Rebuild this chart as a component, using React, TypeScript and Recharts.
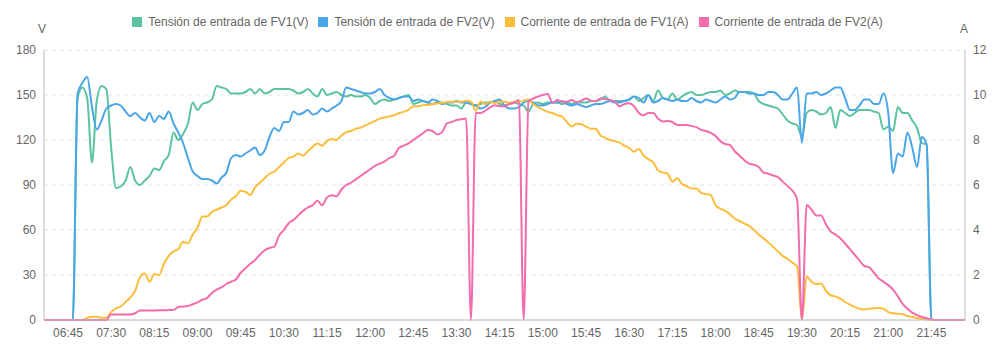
import { LineChart, Line, XAxis, YAxis, CartesianGrid, Legend } from "recharts";

// samples every 5 minutes starting at 06:20
const startTime = "06:20";
const stepMinutes = 5;

const tickLabels = [
  "06:45", "07:30", "08:15", "09:00", "09:45", "10:30", "11:15",
  "12:00", "12:45", "13:30", "14:15", "15:00", "15:45", "16:30",
  "17:15", "18:00", "18:45", "19:30", "20:15", "21:00", "21:45",
];

const voltTicks = [0, 30, 60, 90, 120, 150, 180];
const ampTicks = [0, 2, 4, 6, 8, 10, 12];

// Tensión de entrada de FV1 (V)
const fv1Voltage = [
  0, 0, 0, 0, 0, 0, 0, 148, 155, 148, 105, 146,
  156, 154, 115, 88, 89, 93, 102, 93, 90, 93, 96, 101,
  100, 106, 110, 125, 120, 124, 131, 145, 140, 144, 145, 147,
  156, 155, 154, 151, 151, 151, 152, 154, 151, 154, 151, 152,
  154, 154, 154, 154, 153, 151, 152, 154, 151, 149, 154, 150,
  151, 152, 150, 149, 150, 149, 149, 150, 148, 144, 146, 147,
  146, 147, 148, 149, 150, 144, 145, 146, 145, 144, 145, 145,
  144, 143, 143, 141, 145, 144, 143, 144, 145, 145, 146, 144,
  143, 144, 145, 144, 143, 139, 144, 145, 144, 145, 145, 145,
  144, 145, 144, 145, 145, 145, 146, 146, 147, 149, 146, 146,
  146, 146, 147, 149, 146, 148, 150, 146, 153, 148, 147, 151,
  147, 149, 151, 152, 150, 150, 151, 152, 152, 153, 150, 151,
  153, 152, 152, 152, 151, 146, 144, 143, 142, 141, 137, 133,
  131, 130, 122, 138, 140, 139, 137, 138, 142, 128, 140, 138,
  136, 138, 140, 140, 140, 139, 138, 127, 129, 126, 142, 138,
  138, 133, 128, 118, 117, 0, 0, 0, 0, 0, 0, 0,
  0,
];

// Tensión de entrada de FV2 (V)
const fv2Voltage = [
  0, 0, 0, 0, 0, 0, 0, 151, 158, 162, 142, 127,
  133, 141, 143, 144, 143, 139, 136, 138, 135, 133, 138, 132,
  136, 134, 139, 131, 125, 118, 108, 99, 96, 94, 94, 93,
  91, 95, 98, 108, 110, 109, 111, 113, 115, 110, 113, 122,
  128, 126, 132, 132, 139, 137, 138, 140, 137, 138, 141, 139,
  141, 143, 146, 155, 154, 153, 152, 151, 151, 152, 154, 150,
  148, 147, 148, 149, 149, 146, 147, 146, 145, 147, 146, 144,
  145, 145, 146, 145, 145, 144, 143, 141, 142, 145, 146, 147,
  143, 141, 141, 142, 145, 146, 145, 143, 143, 144, 145, 145,
  146, 144, 143, 144, 143, 142, 143, 144, 144, 145, 146, 145,
  145, 146, 147, 149, 148, 145, 150, 145, 146, 148, 147, 146,
  147, 146, 146, 148, 146, 145, 147, 146, 145, 147, 149, 147,
  148, 152, 152, 151, 151, 150, 150, 152, 152, 150, 147, 147,
  151, 155, 118, 151, 151, 152, 150, 151, 153, 155, 155, 148,
  140, 140, 143, 147, 147, 144, 144, 151, 138, 98, 111, 109,
  125, 115, 102, 122, 117, 0, 0, 0, 0, 0, 0, 0,
  0,
];

// Corriente de entrada de FV1 (A)
const fv1Current = [
  0, 0, 0, 0, 0, 0, 0, 0, 0, 0.1, 0.15, 0.15,
  0.1, 0.1, 0.35, 0.52, 0.6, 0.8, 1.0, 1.3, 1.9, 2.07, 1.7, 2.05,
  2.0, 2.5, 2.85, 3.05, 3.15, 3.48, 3.4, 3.8, 4.1, 4.6, 4.6, 4.8,
  4.9, 5.0, 5.1, 5.35, 5.5, 5.75, 5.7, 5.56, 5.9, 6.1, 6.3, 6.5,
  6.6, 6.8, 7.0, 7.2, 7.26, 7.4, 7.3, 7.5, 7.7, 7.85, 7.75, 7.95,
  8.05, 8.0, 8.2, 8.35, 8.4, 8.5, 8.55, 8.65, 8.75, 8.85, 8.95, 9.0,
  9.05, 9.1, 9.2, 9.25, 9.35, 9.5, 9.5, 9.55, 9.56, 9.6, 9.62, 9.65,
  9.68, 9.7, 9.7, 9.7, 9.75, 9.7, 9.3, 9.7, 9.6, 9.7, 9.65, 9.7,
  9.7, 9.65, 9.7, 9.7, 9.75, 9.8, 9.6, 9.45, 9.35, 9.25, 9.2, 9.1,
  9.04, 8.8, 8.6, 8.72, 8.7, 8.6, 8.5, 8.5, 8.2, 8.1, 8.0, 7.95,
  7.88, 7.75, 7.65, 7.48, 7.6, 7.3, 7.15, 7.0, 6.65, 6.55, 6.5, 6.15,
  6.3, 6.05, 5.95, 5.85, 5.85, 5.65, 5.6, 5.55, 5.1, 4.95, 4.85, 4.7,
  4.5, 4.4, 4.28, 4.18, 4.0, 3.8, 3.63, 3.45, 3.25, 3.05, 2.85, 2.72,
  2.55, 2.37, 0, 1.93, 1.7, 1.6, 1.62, 1.3, 1.1, 1.05, 0.95, 0.8,
  0.68, 0.58, 0.5, 0.47, 0.5, 0.52, 0.53, 0.5, 0.35, 0.3, 0.28, 0.25,
  0.18, 0.13, 0.09, 0.06, 0.03, 0, 0, 0, 0, 0, 0, 0,
  0,
];

// Corriente de entrada de FV2 (A)
const fv2Current = [
  0, 0, 0, 0, 0, 0, 0, 0, 0, 0, 0, 0,
  0, 0, 0.25, 0.25, 0.25, 0.25, 0.25, 0.3, 0.42, 0.42, 0.42, 0.42,
  0.43, 0.43, 0.44, 0.45, 0.58, 0.6, 0.62, 0.7, 0.78, 0.9, 0.98, 1.2,
  1.35, 1.45, 1.6, 1.7, 1.8, 2.1, 2.3, 2.5, 2.67, 2.9, 3.1, 3.2,
  3.26, 3.75, 4.0, 4.3, 4.45, 4.65, 4.85, 5.0, 5.1, 5.3, 5.1, 5.45,
  5.55, 5.5, 5.8, 6.0, 6.1, 6.25, 6.4, 6.55, 6.7, 6.85, 6.95, 7.05,
  7.2, 7.3, 7.65, 7.75, 7.85, 8.0, 8.15, 8.3, 8.45, 8.4, 8.25, 8.35,
  8.74, 8.8, 8.89, 8.92, 8.96, 0, 9.2, 9.2, 9.3, 9.45, 9.55, 9.5,
  9.5, 9.6, 9.65, 9.78, 0, 9.7, 9.85, 9.93, 10.0, 10.05, 9.65, 9.78,
  9.7, 9.7, 9.78, 9.68, 9.75, 9.85, 9.75, 9.72, 9.85, 9.82, 9.78, 9.7,
  9.5, 9.6, 9.63, 9.5, 9.2, 9.1, 9.2, 9.2, 8.95, 8.82, 8.85, 8.8,
  8.67, 8.67, 8.67, 8.62, 8.57, 8.45, 8.4, 8.32, 8.18, 7.95, 7.82, 7.78,
  7.5, 7.3, 7.1, 6.95, 6.9, 6.8, 6.55, 6.5, 6.42, 6.35, 6.15, 5.95,
  5.75, 5.35, 0, 5.11, 4.9, 4.65, 4.65, 4.25, 3.93, 3.8, 3.63, 3.4,
  3.15, 2.9, 2.65, 2.4, 2.35, 2.1, 1.85, 1.7, 1.55, 1.35, 1.05, 0.72,
  0.5, 0.33, 0.22, 0.14, 0.08, 0.03, 0, 0, 0, 0, 0, 0,
  0,
];

const toMinutes = (s: string) => {
  const [h, m] = s.split(":").map(Number);
  return h * 60 + m;
};
const toClock = (m: number) =>
  `${String(Math.floor(m / 60)).padStart(2, "0")}:${String(m % 60).padStart(2, "0")}`;

const firstMinute = toMinutes(startTime);
const data = fv1Voltage.map((v, i) => ({
  t: firstMinute + i * stepMinutes,
  fv1V: v,
  fv2V: fv2Voltage[i],
  fv1A: fv1Current[i],
  fv2A: fv2Current[i],
}));
const lastMinute = firstMinute + (fv1Voltage.length - 1) * stepMinutes;

// series in legend / drawing order
const series = [
  { key: "fv1V", axis: "v", name: "Tensión de entrada de FV1(V)", color: "#5bc49f" },
  { key: "fv2V", axis: "v", name: "Tensión de entrada de FV2(V)", color: "#4ba6e8" },
  { key: "fv1A", axis: "a", name: "Corriente de entrada de FV1(A)", color: "#fbbd3c" },
  { key: "fv2A", axis: "a", name: "Corriente de entrada de FV2(A)", color: "#f26cae" },
];

const font = '"Liberation Sans", Arial, sans-serif';
const tickStyle = { fill: "#666", fontSize: 12, fontFamily: font };

const LegendBox = () => (
  <div
    style={{
      display: "flex",
      justifyContent: "center",
      alignItems: "center",
      height: 20,
      paddingLeft: 25,
      fontSize: 12,
      fontFamily: font,
      color: "#666",
    }}
  >
    {series.map((s) => (
      <span key={s.key} style={{ display: "flex", alignItems: "center", marginRight: 10 }}>
        <span style={{ width: 10, height: 10, background: s.color, marginRight: 6 }} />
        {s.name}
      </span>
    ))}
  </div>
);

const unitLabel = (text: string, side: "left" | "right") => (props: any) => {
  const vb = props.viewBox || {};
  const x = side === "left" ? vb.x + vb.width - 2 : vb.x - 1;
  return (
    <text
      x={x}
      y={vb.y - 21}
      textAnchor="middle"
      dominantBaseline="central"
      fill="#666"
      fontSize={12}
      fontFamily={font}
    >
      {text}
    </text>
  );
};

export default function App() {
  return (
    <div style={{ position: "absolute", left: 0, top: 0, width: 1000, height: 356, background: "#fff" }}>
      <LineChart
        width={1000}
        height={356}
        data={data}
        margin={{ top: 30, right: 0, bottom: 0, left: 0 }}
        style={{ fontFamily: font }}
      >
        <CartesianGrid yAxisId="v" vertical={false} stroke="#e4e4e4" strokeDasharray="4 4" />
        <XAxis
          dataKey="t"
          type="number"
          domain={[firstMinute, lastMinute]}
          ticks={tickLabels.map(toMinutes)}
          tickFormatter={toClock}
          height={36}
          tickLine={false}
          axisLine={{ stroke: "#bbb" }}
          tick={tickStyle}
        />
        <YAxis
          yAxisId="v"
          domain={[0, 180]}
          ticks={voltTicks}
          width={44}
          tickLine={false}
          axisLine={{ stroke: "#bbb" }}
          tick={tickStyle}
          label={{ content: unitLabel("V", "left") }}
        />
        <YAxis
          yAxisId="a"
          orientation="right"
          domain={[0, 12]}
          ticks={ampTicks}
          width={35}
          tickLine={false}
          axisLine={{ stroke: "#bbb" }}
          tick={tickStyle}
          label={{ content: unitLabel("A", "right") }}
        />
        <Legend
          verticalAlign="top"
          content={LegendBox}
          wrapperStyle={{ top: 12, left: 0, width: 1000 }}
        />
        {series.map((s) => (
          <Line
            key={s.key}
            yAxisId={s.axis}
            type="monotone"
            dataKey={s.key}
            name={s.name}
            stroke={s.color}
            strokeWidth={2}
            dot={false}
            activeDot={false}
            isAnimationActive={false}
          />
        ))}
      </LineChart>
    </div>
  );
}
